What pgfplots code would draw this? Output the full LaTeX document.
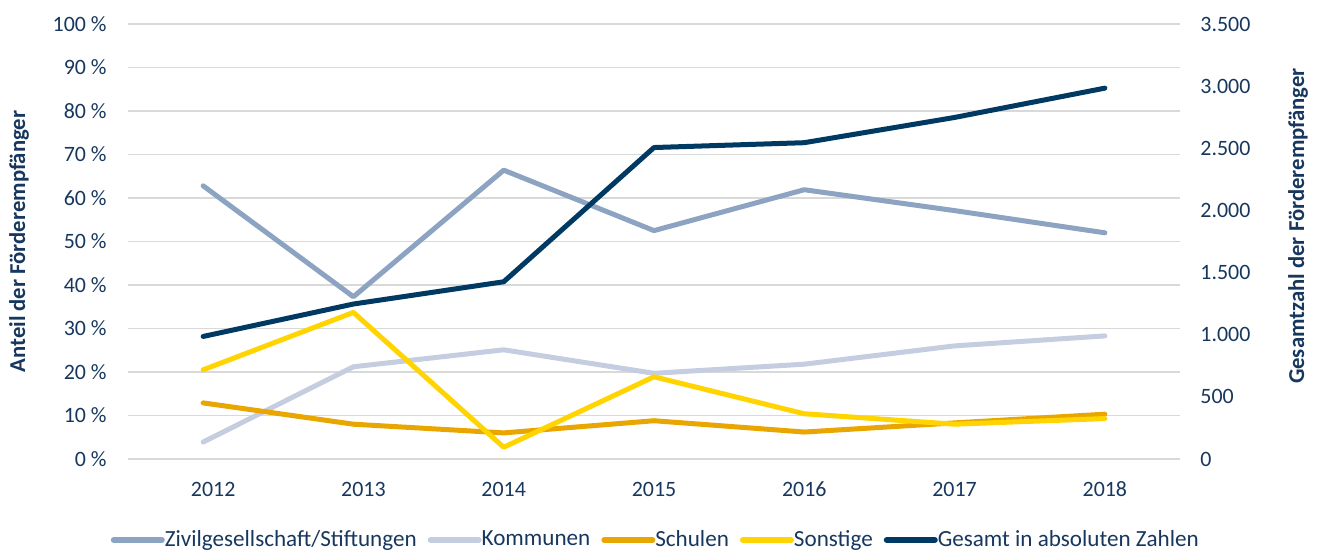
\documentclass[border=0pt]{standalone}
\usepackage{pgfplots}
\pgfplotsset{compat=1.18}
\usepackage{fontspec}
\setmainfont{Carlito}
\definecolor{txt}{RGB}{23,55,94}
\definecolor{ziv}{RGB}{140,163,193}
\definecolor{kom}{RGB}{196,206,224}
\definecolor{sch}{RGB}{233,166,0}
\definecolor{son}{RGB}{255,212,0}
\definecolor{ges}{RGB}{0,58,99}
\definecolor{grd}{RGB}{217,217,217}
\begin{document}
\begin{tikzpicture}
\path[use as bounding box] (0,0) rectangle (659.5bp,276bp);
\pgfplotsset{
 base/.style={
  at={(64bp,46.5bp)}, anchor=south west, scale only axis, width=526bp, height=217.5bp,
  xmin=-0.5, xmax=6.5, ymin=0,
  axis line style={draw=none}, major tick length=0pt,
  tick label style={font=\fontsize{11}{13}\selectfont, text=txt, inner sep=0pt},
  /pgf/number format/assume math mode=true,
  clip=false,
 },
 ser/.style={line width=2.5bp, line join=round, line cap=round},
}
\begin{axis}[base,
 ymax=100, ytick={0,10,...,100},
 ymajorgrids, grid style={grd, line width=0.9bp},
 yticklabel={\pgfmathprintnumber{\tick}~\%},
 yticklabel style={anchor=east, xshift=-10.5bp},
 xtick={0,...,6}, xticklabels={\hspace*{10bp}2012,\hspace*{10bp}2013,2014,2015,2016,2017,2018},
 xticklabel style={anchor=base, yshift=-18.85bp},
 ylabel={Anteil der Förderempfänger},
 every axis y label/.style={at={(axis description cs:-0.1036,0.5)}, rotate=90, anchor=center,
   font=\fontsize{11.4}{13}\selectfont\bfseries, text=txt, inner sep=0pt},
 legend columns=5,
 legend cell align=left,
 legend style={at={(axis description cs:0.5008,-0.1862)}, anchor=center, draw=none, fill=none,
   font=\fontsize{11.6}{13}\selectfont, text=txt, inner sep=0pt,
   nodes={inner sep=0pt},
   /tikz/every odd column/.append style={column sep=0bp},
   /tikz/every even column/.append style={column sep=5.5bp}},
 legend image code/.code={\draw[#1, line width=3bp, line cap=round] (1.5bp,0bp) -- (25.5bp,0bp);},
]
\addplot[ser, ziv] coordinates {(0,62.8) (1,37.3) (2,66.4) (3,52.5) (4,61.9) (5,57.1) (6,52.0)};
\addlegendentry{Zivilgesellschaft/Stiftungen}
\addplot[ser, kom] coordinates {(0,3.9) (1,21.2) (2,25.1) (3,19.7) (4,21.8) (5,26.0) (6,28.3)};
\addlegendentry{Kommunen}
\addplot[ser, sch] coordinates {(0,12.9) (1,8.0) (2,6.0) (3,8.8) (4,6.2) (5,8.3) (6,10.3)};
\addlegendentry{Schulen}
\addplot[ser, son] coordinates {(0,20.5) (1,33.7) (2,2.7) (3,18.9) (4,10.4) (5,8.0) (6,9.3)};
\addlegendentry{Sonstige}
\addlegendimage{ser, ges}
\addlegendentry{Gesamt in absoluten Zahlen}
\end{axis}
\begin{axis}[base,
 ymax=3500, ytick={0,500,...,3500},
 axis y line*=right, axis x line=none,
 /pgf/number format/1000 sep={.},
 yticklabel style={anchor=west, xshift=10bp},
 ylabel={Gesamtzahl der Förderempfänger},
 every axis y label/.style={at={(axis description cs:1.1122,0.5356)}, rotate=90, anchor=center,
   font=\fontsize{11.4}{13}\selectfont\bfseries, text=txt, inner sep=0pt},
]
\addplot[ser, ges] coordinates {(0,986) (1,1247) (2,1426) (3,2506) (4,2545) (5,2748) (6,2984)};
\end{axis}
\end{tikzpicture}
\end{document}
